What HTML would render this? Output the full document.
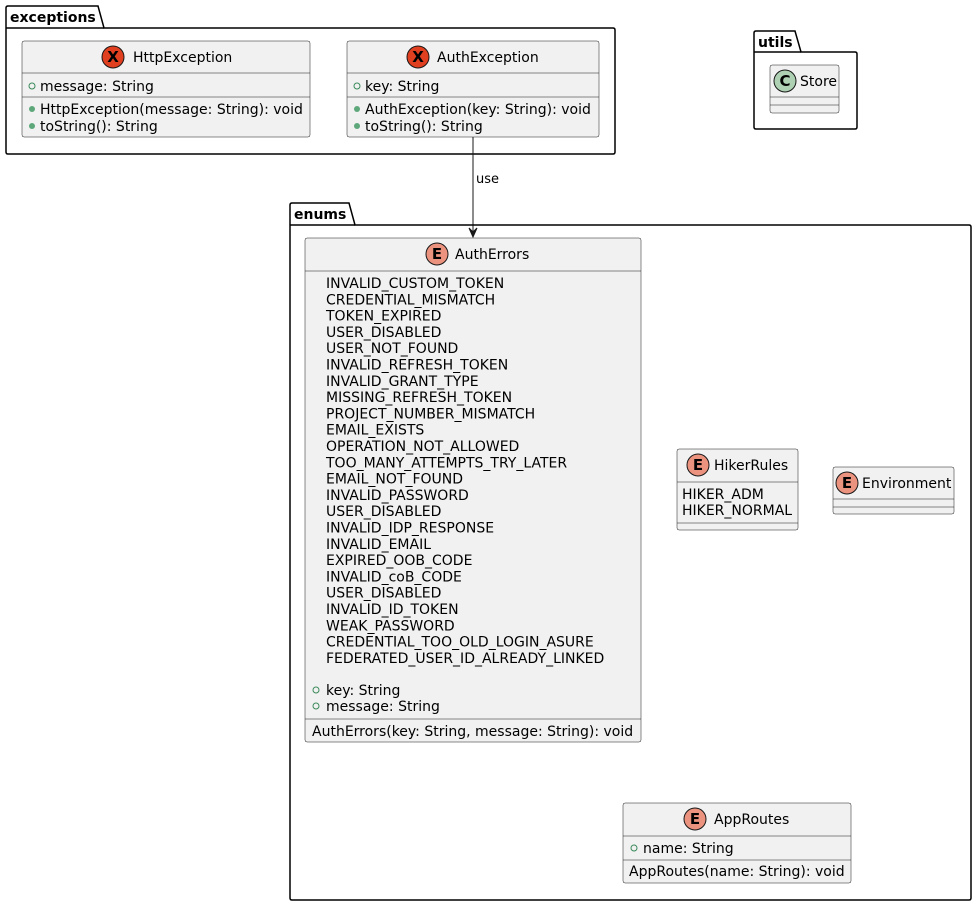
<!DOCTYPE html>
<html><head><meta charset="utf-8"><style>
html,body{margin:0;padding:0;background:#fff;}
svg{display:block;}
text{font-family:"DejaVu Sans","Liberation Sans",sans-serif;font-size:14px;fill:#000;}
.pk{font-weight:bold;}
.box{fill:#f1f1f1;stroke:#181818;stroke-width:0.5;}
.ln{stroke:#181818;stroke-width:0.5;}
.pkg{fill:none;stroke:#000;stroke-width:1.5;}
</style></head><body>
<svg width="977" height="906" viewBox="0 0 977 906" xmlns="http://www.w3.org/2000/svg">
<!-- exceptions package -->
<path class="pkg" d="M6,28 L6,8 Q6,6 8,6 L98,6 L104,28 L613,28 Q615,28 615,30 L615,152 Q615,154 613,154 L8,154 Q6,154 6,152 Z"/>
<line class="pkg" x1="6" y1="28" x2="104" y2="28"/>
<text class="pk" x="10" y="22">exceptions</text>

<!-- HttpException -->
<rect class="box" x="22" y="41" width="288" height="96" rx="2"/>
<line class="ln" x1="22" y1="73" x2="310" y2="73"/>
<line class="ln" x1="22" y1="97" x2="310" y2="97"/>
<circle cx="113" cy="57" r="11" fill="#e0401f" stroke="#181818" stroke-width="1"/>
<text x="113" y="62" text-anchor="middle" style="font-weight:bold;font-size:15px">X</text>
<text x="133" y="62">HttpException</text>
<circle cx="32" cy="86" r="3" fill="none" stroke="#3a8a5a"/>
<text x="40" y="91">message: String</text>
<circle cx="32" cy="109" r="3" fill="#5da77a"/>
<text x="40" y="114">HttpException(message: String): void</text>
<circle cx="32" cy="126" r="3" fill="#5da77a"/>
<text x="40" y="131">toString(): String</text>

<!-- AuthException -->
<rect class="box" x="347" y="41" width="252" height="96" rx="2"/>
<line class="ln" x1="347" y1="73" x2="599" y2="73"/>
<line class="ln" x1="347" y1="97" x2="599" y2="97"/>
<circle cx="418" cy="57" r="11" fill="#e0401f" stroke="#181818" stroke-width="1"/>
<text x="418" y="62" text-anchor="middle" style="font-weight:bold;font-size:15px">X</text>
<text x="437" y="62">AuthException</text>
<circle cx="357" cy="86" r="3" fill="none" stroke="#3a8a5a"/>
<text x="365" y="91">key: String</text>
<circle cx="357" cy="109" r="3" fill="#5da77a"/>
<text x="365" y="114">AuthException(key: String): void</text>
<circle cx="357" cy="126" r="3" fill="#5da77a"/>
<text x="365" y="131">toString(): String</text>

<!-- utils package -->
<path class="pkg" d="M754,52 L754,33 Q754,31 756,31 L795,31 L801,52 L855,52 Q857,52 857,54 L857,127 Q857,129 855,129 L756,129 Q754,129 754,127 Z"/>
<line class="pkg" x1="754" y1="52" x2="801" y2="52"/>
<text class="pk" x="758" y="47">utils</text>
<rect class="box" x="770" y="65" width="69" height="48" rx="2"/>
<line class="ln" x1="770" y1="97" x2="839" y2="97"/>
<line class="ln" x1="770" y1="105" x2="839" y2="105"/>
<circle cx="785" cy="81" r="11" fill="#add1b2" stroke="#181818" stroke-width="1"/>
<text x="785" y="86" text-anchor="middle" style="font-weight:bold;font-size:15px">C</text>
<text x="800" y="86">Store</text>

<!-- arrow -->
<line x1="473" y1="137" x2="473" y2="236" stroke="#181818" stroke-width="1"/>
<path d="M469,228 L473,237 L477,228 L473,232 Z" fill="#181818" stroke="#181818"/>
<text x="476" y="183" style="font-size:13px">use</text>

<!-- enums package -->
<path class="pkg" d="M290,225 L290,205 Q290,203 292,203 L349,203 L355,225 L969,225 Q971,225 971,227 L971,898 Q971,900 969,900 L292,900 Q290,900 290,898 Z"/>
<line class="pkg" x1="290" y1="225" x2="355" y2="225"/>
<text class="pk" x="294" y="219">enums</text>

<!-- AuthErrors -->
<rect class="box" x="305" y="238" width="336" height="504" rx="2"/>
<line class="ln" x1="305" y1="271" x2="641" y2="271"/>
<line class="ln" x1="305" y1="719" x2="641" y2="719"/>
<circle cx="437" cy="254" r="11" fill="#eb937f" stroke="#181818" stroke-width="1"/>
<text x="437" y="259" text-anchor="middle" style="font-weight:bold;font-size:15px">E</text>
<text x="455" y="259">AuthErrors</text>
<g>
<text x="326" y="288">INVALID_CUSTOM_TOKEN</text>
<text x="326" y="304.3">CREDENTIAL_MISMATCH</text>
<text x="326" y="320.6">TOKEN_EXPIRED</text>
<text x="326" y="336.9">USER_DISABLED</text>
<text x="326" y="353.2">USER_NOT_FOUND</text>
<text x="326" y="369.5">INVALID_REFRESH_TOKEN</text>
<text x="326" y="385.8">INVALID_GRANT_TYPE</text>
<text x="326" y="402.1">MISSING_REFRESH_TOKEN</text>
<text x="326" y="418.4">PROJECT_NUMBER_MISMATCH</text>
<text x="326" y="434.7">EMAIL_EXISTS</text>
<text x="326" y="451">OPERATION_NOT_ALLOWED</text>
<text x="326" y="467.3">TOO_MANY_ATTEMPTS_TRY_LATER</text>
<text x="326" y="483.6">EMAIL_NOT_FOUND</text>
<text x="326" y="499.9">INVALID_PASSWORD</text>
<text x="326" y="516.2">USER_DISABLED</text>
<text x="326" y="532.5">INVALID_IDP_RESPONSE</text>
<text x="326" y="548.8">INVALID_EMAIL</text>
<text x="326" y="565.1">EXPIRED_OOB_CODE</text>
<text x="326" y="581.4">INVALID_coB_CODE</text>
<text x="326" y="597.7">USER_DISABLED</text>
<text x="326" y="614">INVALID_ID_TOKEN</text>
<text x="326" y="630.3">WEAK_PASSWORD</text>
<text x="326" y="646.6">CREDENTIAL_TOO_OLD_LOGIN_ASURE</text>
<text x="326" y="662.9">FEDERATED_USER_ID_ALREADY_LINKED</text>
</g>
<circle cx="316" cy="690" r="3" fill="none" stroke="#3a8a5a"/>
<text x="326" y="695">key: String</text>
<circle cx="316" cy="706" r="3" fill="none" stroke="#3a8a5a"/>
<text x="326" y="711">message: String</text>
<text x="312" y="736">AuthErrors(key: String, message: String): void</text>

<!-- HikerRules -->
<rect class="box" x="677" y="449" width="121" height="81" rx="2"/>
<line class="ln" x1="677" y1="482" x2="798" y2="482"/>
<line class="ln" x1="677" y1="523" x2="798" y2="523"/>
<circle cx="698" cy="465" r="11" fill="#eb937f" stroke="#181818" stroke-width="1"/>
<text x="698" y="470" text-anchor="middle" style="font-weight:bold;font-size:15px">E</text>
<text x="714" y="470">HikerRules</text>
<text x="682" y="499">HIKER_ADM</text>
<text x="682" y="515">HIKER_NORMAL</text>

<!-- Environment -->
<rect class="box" x="833" y="467" width="121" height="47" rx="2"/>
<line class="ln" x1="833" y1="499" x2="954" y2="499"/>
<line class="ln" x1="833" y1="507" x2="954" y2="507"/>
<circle cx="847" cy="483" r="11" fill="#eb937f" stroke="#181818" stroke-width="1"/>
<text x="847" y="488" text-anchor="middle" style="font-weight:bold;font-size:15px">E</text>
<text x="862" y="488">Environment</text>

<!-- AppRoutes -->
<rect class="box" x="623" y="803" width="228" height="80" rx="2"/>
<line class="ln" x1="623" y1="836" x2="851" y2="836"/>
<line class="ln" x1="623" y1="860" x2="851" y2="860"/>
<circle cx="695" cy="819" r="11" fill="#eb937f" stroke="#181818" stroke-width="1"/>
<text x="695" y="824" text-anchor="middle" style="font-weight:bold;font-size:15px">E</text>
<text x="714" y="824">AppRoutes</text>
<circle cx="634" cy="848" r="3" fill="none" stroke="#3a8a5a"/>
<text x="643" y="853">name: String</text>
<text x="629" y="876">AppRoutes(name: String): void</text>
</svg>
</body></html>
